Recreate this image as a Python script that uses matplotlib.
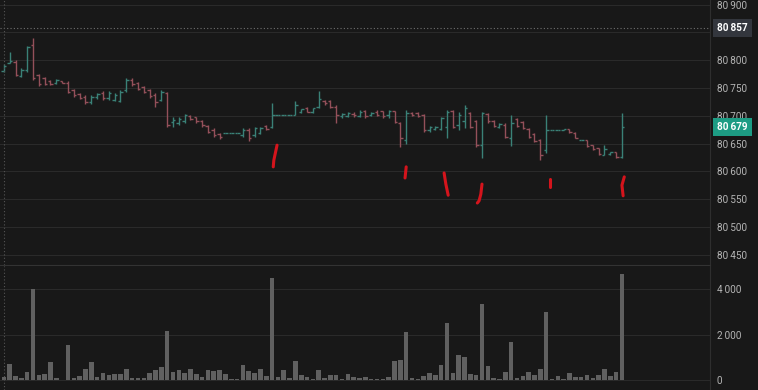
import numpy as np
import matplotlib
matplotlib.use("Agg")
import matplotlib.pyplot as plt

# OHLC bars (index = bar number)
opens = [80780, 80795, 80797, 80771, 80782, 80827, 80773, 80768, 80762, 80759,
         80762, 80759, 80746, 80739, 80734, 80725, 80734, 80741, 80732, 80728,
         80726, 80746, 80764, 80759, 80752, 80746, 80737, 80728, 80741, 80689,
         80687, 80690, 80699, 80698, 80690, 80681, 80674, 80667, 80669, 80669,
         80669, 80665, 80674, 80665, 80669, 80681, 80680, 80701, 80701, 80701,
         80701, 80707, 80714, 80707, 80716, 80726, 80726, 80716, 80699, 80699,
         80703, 80699, 80708, 80701, 80707, 80708, 80701, 80708, 80687, 80656,
         80705, 80705, 80701, 80674, 80676, 80676, 80680, 80708, 80683, 80690,
         80705, 80690, 80647, 80703, 80690, 80680, 80683, 80660, 80694, 80689,
         80676, 80667, 80656, 80638, 80674, 80674, 80674, 80676, 80669, 80656,
         80656, 80647, 80642, 80630, 80631, 80635, 80626]
highs = [80793, 80815, 80800, 80786, 80825, 80840, 80775, 80770, 80764, 80766,
         80763, 80762, 80748, 80741, 80737, 80737, 80741, 80744, 80744, 80741,
         80746, 80768, 80768, 80761, 80753, 80748, 80741, 80746, 80743, 80698,
         80698, 80703, 80701, 80698, 80692, 80683, 80678, 80669, 80669, 80669,
         80669, 80678, 80678, 80680, 80680, 80683, 80723, 80701, 80701, 80701,
         80726, 80712, 80716, 80714, 80744, 80728, 80728, 80719, 80705, 80707,
         80707, 80710, 80710, 80707, 80710, 80708, 80710, 80708, 80689, 80710,
         80707, 80707, 80703, 80681, 80681, 80698, 80710, 80710, 80707, 80719,
         80707, 80692, 80707, 80705, 80692, 80687, 80687, 80701, 80696, 80690,
         80678, 80669, 80658, 80701, 80674, 80674, 80676, 80676, 80671, 80656,
         80656, 80647, 80642, 80647, 80635, 80635, 80705]
lows = [80779, 80794, 80771, 80770, 80779, 80764, 80753, 80755, 80755, 80757,
        80758, 80740, 80734, 80730, 80721, 80721, 80730, 80728, 80728, 80726,
        80724, 80743, 80753, 80746, 80741, 80732, 80716, 80726, 80680, 80680,
        80683, 80687, 80692, 80687, 80680, 80669, 80662, 80658, 80669, 80669,
        80669, 80662, 80654, 80662, 80667, 80674, 80678, 80701, 80701, 80701,
        80701, 80705, 80707, 80705, 80714, 80719, 80714, 80687, 80696, 80698,
        80698, 80698, 80696, 80699, 80699, 80696, 80696, 80687, 80644, 80649,
        80699, 80698, 80671, 80671, 80674, 80674, 80660, 80678, 80674, 80678,
        80678, 80644, 80624, 80687, 80680, 80678, 80660, 80645, 80680, 80676,
        80660, 80653, 80620, 80633, 80674, 80674, 80674, 80669, 80660, 80656,
        80644, 80638, 80629, 80629, 80629, 80624, 80624]
closes = [80789, 80798, 80773, 80782, 80824, 80768, 80757, 80757, 80757, 80764,
          80759, 80743, 80737, 80732, 80725, 80734, 80739, 80732, 80741, 80737,
          80743, 80764, 80757, 80748, 80743, 80735, 80725, 80743, 80683, 80692,
          80694, 80701, 80694, 80690, 80683, 80671, 80665, 80662, 80669, 80669,
          80669, 80674, 80660, 80678, 80678, 80676, 80701, 80701, 80701, 80701,
          80719, 80712, 80707, 80714, 80730, 80723, 80716, 80701, 80703, 80705,
          80701, 80707, 80699, 80705, 80701, 80699, 80708, 80689, 80660, 80705,
          80701, 80699, 80674, 80680, 80680, 80696, 80707, 80680, 80701, 80714,
          80680, 80647, 80705, 80690, 80681, 80685, 80662, 80687, 80681, 80678,
          80662, 80654, 80629, 80674, 80674, 80674, 80676, 80671, 80660, 80656,
          80646, 80640, 80631, 80640, 80635, 80626, 80679]
volumes = [160, 725, 175, 115, 360, 3990, 250, 275, 800, 115,
           30, 1550, 115, 190, 510, 800, 160, 320, 250, 290,
           290, 510, 115, 115, 115, 320, 465, 595, 2160, 360,
           435, 320, 480, 275, 160, 465, 390, 435, 275, 70,
           70, 680, 405, 320, 510, 200, 4470, 160, 450, 115,
           840, 250, 130, 70, 435, 115, 250, 250, 70, 275,
           160, 115, 160, 70, 70, 70, 145, 830, 870, 2100,
           115, 45, 200, 320, 220, 680, 2510, 320, 1120, 1040,
           275, 250, 3365, 625, 115, 70, 360, 1680, 115, 200,
           360, 250, 480, 2990, 70, 200, 70, 320, 160, 160,
           250, 115, 250, 510, 200, 360, 4680]

price_ticks = [80450, 80500, 80550, 80600, 80650, 80700, 80750, 80800, 80850, 80900]
vol_ticks = [0, 2000, 4000]
last_price = 80679
cross_price = 80857

# hand drawn red marks (bar index, price)
marks = [
    ([46.85, 46.3, 46.2], [80647, 80620, 80608]),
    ([69.0, 68.8], [80608, 80588]),
    ([75.5, 75.8, 76.2], [80597, 80577, 80557]),
    ([82.0, 81.8, 81.5, 81.2], [80577, 80559, 80547, 80543]),
    ([93.7, 93.7], [80586, 80572]),
    ([106.4, 106.0, 106.2], [80590, 80575, 80556]),
]

bg = '#181818'
grid = '#2a2a2a'
up_c = '#3a8177'
dn_c = '#94505a'
txt = '#b4b4b4'


def fmt(v):
    return f"{v // 1000}\u2009{v % 1000:03d}"


W, H = 758, 390
fig = plt.figure(figsize=(W / 100, H / 100), dpi=100, facecolor=bg)
plt.rcParams['font.family'] = ['Roboto', 'DejaVu Sans']

axw = 710 / W
ax = fig.add_axes([0, 125 / H, axw, 265 / H], facecolor=bg)
axv = fig.add_axes([0, 0, axw, 124 / H], facecolor=bg)

x = np.arange(len(opens))
o = np.array(opens)
c = np.array(closes)
colors = np.where(c >= o, up_c, dn_c)
tw = 0.42

ax.vlines(x, lows, highs, colors=colors, lw=1.0)
ax.hlines(o, x - tw, x, colors=colors, lw=1.0)
ax.hlines(c, x, x + tw, colors=colors, lw=1.0)

for mx, my in marks:
    ax.plot(mx, my, color='#d4141c', lw=2.2, solid_capstyle='round')

xl = (-0.66, 121.1)
ax.set_xlim(*xl)
ax.set_ylim(80431.5, 80908.1)
ax.set_yticks(price_ticks)
ax.set_yticklabels(['' if p == 80850 else fmt(p) for p in price_ticks])
ax.yaxis.tick_right()
ax.tick_params(axis='y', length=0, pad=5, labelcolor=txt, labelsize=7.2)
ax.set_xticks([])
ax.grid(axis='y', color=grid, lw=0.8)
ax.set_axisbelow(True)

axv.bar(x, volumes, width=0.78, color='#606060')
axv.set_xlim(*xl)
axv.set_ylim(-425, 5013)
axv.set_yticks(vol_ticks)
axv.set_yticklabels(['0' if v == 0 else fmt(v) for v in vol_ticks])
axv.yaxis.tick_right()
axv.tick_params(axis='y', length=0, pad=5, labelcolor=txt, labelsize=7.2)
axv.set_xticks([])
axv.grid(axis='y', color=grid, lw=0.8)
axv.set_axisbelow(True)

for a in (ax, axv):
    for s in a.spines.values():
        s.set_visible(False)
    a.spines['right'].set_visible(True)
    a.spines['right'].set_color('#2e2e2e')
ax.spines['bottom'].set_visible(True)
ax.spines['bottom'].set_color('#333333')

# crosshair
ax.axhline(cross_price, color='#707070', lw=0.8, ls=(0, (1, 2)))
ax.axvline(0, color='#555555', lw=0.8, ls=(0, (1, 2)))
axv.axvline(0, color='#555555', lw=0.8, ls=(0, (1, 2)))

# price labels on the axis
ax.annotate(fmt(cross_price), xy=(1 + 7 / 710, cross_price),
            xycoords=('axes fraction', 'data'), va='center', ha='left', fontsize=7.2,
            color='white', fontweight='bold', annotation_clip=False,
            bbox=dict(boxstyle='square,pad=0.4', fc='#33363d', ec='none'))
ax.annotate(fmt(last_price), xy=(1 + 7 / 710, last_price),
            xycoords=('axes fraction', 'data'), va='center', ha='left', fontsize=7.2,
            color='white', fontweight='bold', annotation_clip=False,
            bbox=dict(boxstyle='square,pad=0.4', fc='#1d9c84', ec='none'))

fig.savefig('out.png', dpi=100, facecolor=bg)
